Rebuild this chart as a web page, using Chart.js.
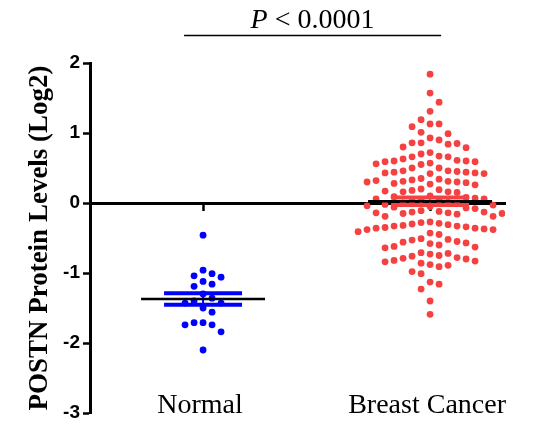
<!DOCTYPE html>
<html>
<head>
<meta charset="utf-8">
<script src="https://cdn.jsdelivr.net/npm/chart.js@4.4.1/dist/chart.umd.min.js"></script>
<style>
  html, body { margin: 0; padding: 0; background: #fff; }
  canvas { display: block; }
</style>
</head>
<body>
<canvas id="dotChart" width="536" height="428"></canvas>
<script>
// Groups and values (log2 POSTN levels)
const groups = ['Normal', 'Breast Cancer'];
const groupColors = ['#0000FF', 'rgb(244,66,66)'];

const normalValues = [-0.46, -0.96, -1.01, -1.04, -1.06, -1.12, -1.16, -1.19, -1.30, -1.36, -1.40,
  -1.43, -1.43, -1.50, -1.56, -1.71, -1.71, -1.74, -1.74, -1.84, -2.10];

const cancerValues = [
  1.84, 1.57, 1.44, 1.31, 1.19, 1.13, 1.13, 1.09, 1.01, 0.99, 0.93, 0.90, 0.86, 0.86, 0.85, 0.84, 0.80, 0.79,
  0.72, 0.70, 0.67, 0.66, 0.66, 0.63,
  0.61, 0.60, 0.60, 0.59, 0.59, 0.57, 0.56, 0.55, 0.50, 0.50,
  0.46, 0.46, 0.45, 0.44, 0.44, 0.43, 0.43, 0.42, 0.42,
  0.35, 0.34, 0.33, 0.32, 0.31, 0.31, 0.30, 0.30, 0.29, 0.28, 0.27, 0.26,
  0.20, 0.19, 0.18, 0.17, 0.16, 0.16, 0.15,
  0.10, 0.09, 0.08, 0.07, 0.06, 0.06, 0.05, 0.04, 0.03,
  0.01, 0.00, -0.01, -0.02, -0.03, -0.04, -0.05, -0.06, -0.07, -0.08,
  -0.11, -0.12, -0.13, -0.13, -0.14, -0.14, -0.15, -0.15, -0.16, -0.19, -0.19,
  -0.27, -0.28, -0.29, -0.30, -0.31, -0.32, -0.33, -0.33, -0.34, -0.35, -0.36, -0.36, -0.37, -0.38, -0.38,
  -0.41, -0.43, -0.45,
  -0.51, -0.52, -0.53, -0.55, -0.56, -0.57, -0.58, -0.60, -0.62, -0.63, -0.64,
  -0.71, -0.72, -0.73, -0.75, -0.76, -0.78, -0.79, -0.80, -0.82, -0.83, -0.84,
  -0.86, -0.88, -0.89, -0.91,
  -0.98, -1.01, -1.13, -1.16, -1.23, -1.40, -1.59
];

const seriesValues = [normalValues, cancerValues];
const yTicks = [2, 1, 0, -1, -2, -3];
const pLabel = ['P', ' < 0.0001'];

const serif = "'Liberation Serif', 'Times New Roman', serif";
const sans = "'Liberation Sans', Arial, sans-serif";

function mean(a) { return a.reduce((s, v) => s + v, 0) / a.length; }
function sem(a) {
  const m = mean(a);
  const sd = Math.sqrt(a.reduce((s, v) => s + (v - m) * (v - m), 0) / (a.length - 1));
  return sd / Math.sqrt(a.length);
}

// simple beeswarm: columns of fixed width, points stacked so they don't overlap
function swarmColumns(yPix, minGap) {
  const cols = {};
  const out = new Array(yPix.length);
  const order = yPix.map((v, i) => i).sort((a, b) => yPix[a] - yPix[b]);
  let side = 1;
  order.forEach(i => {
    const y = yPix[i];
    for (let k = 0; ; k++) {
      const cands = k === 0 ? [0] : [k * side, -k * side];
      const c = cands.find(c => !(cols[c] || []).some(yy => Math.abs(yy - y) < minGap));
      if (c !== undefined) {
        (cols[c] = cols[c] || []).push(y);
        out[i] = c;
        if (c !== 0) side = c > 0 ? -1 : 1;
        break;
      }
    }
  });
  return out;
}

// mean line + SEM caps, P value bracket and category names
const extrasPlugin = {
  id: 'extras',
  afterDatasetsDraw(chart) {
    const {ctx, scales: {x, y}} = chart;
    ctx.save();
    seriesValues.forEach((vals, g) => {
      const cx = x.getPixelForValue(g);
      const m = mean(vals), e = sem(vals);
      const yHi = y.getPixelForValue(m + e), yLo = y.getPixelForValue(m - e);
      ctx.strokeStyle = groupColors[g];
      ctx.lineWidth = 2;
      ctx.beginPath(); ctx.moveTo(cx, yHi); ctx.lineTo(cx, yLo); ctx.stroke();
      ctx.lineWidth = 4;
      [yHi, yLo].forEach(yy => {
        ctx.beginPath(); ctx.moveTo(cx - 39, yy); ctx.lineTo(cx + 39, yy); ctx.stroke();
      });
      ctx.strokeStyle = '#000';
      ctx.lineWidth = 2.5;
      const ym = y.getPixelForValue(m);
      ctx.beginPath(); ctx.moveTo(cx - 62, ym); ctx.lineTo(cx + 62, ym); ctx.stroke();
    });
    ctx.restore();
  },
  afterDraw(chart) {
    const {ctx, scales: {x, y}} = chart;
    ctx.save();
    ctx.fillStyle = '#000';
    // category labels
    ctx.font = '28px ' + serif;
    ctx.textAlign = 'center';
    ctx.textBaseline = 'alphabetic';
    groups.forEach((name, g) => {
      ctx.fillText(name, x.getPixelForValue(g) - 3, y.bottom);
    });
    // significance bracket
    const x0 = x.getPixelForValue(0) - 19, x1 = x.getPixelForValue(1) + 11;
    ctx.strokeStyle = '#000';
    ctx.lineWidth = 1.3;
    ctx.beginPath(); ctx.moveTo(x0, 35.5); ctx.lineTo(x1, 35.5); ctx.stroke();
    const italic = 'italic 28px ' + serif, upright = '28px ' + serif;
    ctx.font = italic; const w0 = ctx.measureText(pLabel[0]).width;
    ctx.font = upright; const w1 = ctx.measureText(pLabel[1]).width;
    let tx = (x0 + x1) / 2 - (w0 + w1) / 2;
    ctx.textAlign = 'left';
    ctx.font = italic; ctx.fillText(pLabel[0], tx, 28);
    ctx.font = upright; ctx.fillText(pLabel[1], tx + w0, 28);
    ctx.restore();
  }
};

const ctx = document.getElementById('dotChart').getContext('2d');
const dotChart = new Chart(ctx, {
  type: 'scatter',
  data: {
    datasets: seriesValues.map((vals, g) => ({
      label: groups[g],
      data: vals.map(v => ({x: g, y: v})),
      backgroundColor: groupColors[g],
      borderWidth: 0,
      pointRadius: 3.4,
      pointHoverRadius: 3.4
    }))
  },
  options: {
    responsive: false,
    animation: false,
    layout: {padding: {top: 63, bottom: 15, left: 2, right: 31}},
    plugins: {
      legend: {display: false},
      tooltip: {enabled: false}
    },
    scales: {
      x: {
        type: 'linear',
        position: {y: 0},
        min: -0.498,
        max: 1.33,
        z: 1,
        border: {color: '#000', width: 3},
        grid: {drawOnChartArea: false, drawTicks: true, tickLength: 6, tickColor: '#000', tickWidth: 2.5},
        ticks: {display: false},
        afterBuildTicks: s => { s.ticks = groups.map((n, i) => ({value: i})); }
      },
      y: {
        min: -3,
        max: 2,
        border: {color: '#000', width: 3},
        grid: {drawOnChartArea: false, drawTicks: true, tickLength: 7, tickColor: '#000', tickWidth: 2.5},
        ticks: {
          color: '#000',
          padding: 3,
          font: {family: sans, size: 19, weight: 'bold'}
        },
        afterBuildTicks: s => { s.ticks = yTicks.map(v => ({value: v})); },
        afterFit: s => { s.width = 88; },
        title: {
          display: true,
          text: 'POSTN Protein Levels (Log2)',
          color: '#000',
          font: {family: serif, size: 27, weight: 'bold', lineHeight: 1.2},
          padding: {top: 22, bottom: 0}
        }
      }
    }
  },
  plugins: [extrasPlugin]
});

// spread points sideways once the scales are known
(function applySwarm(chart) {
  const xs = chart.scales.x, ys = chart.scales.y;
  const colUnit = 9 / (xs.getPixelForValue(1) - xs.getPixelForValue(0));
  chart.data.datasets.forEach((ds, g) => {
    const vals = seriesValues[g];
    const cols = swarmColumns(vals.map(v => ys.getPixelForValue(v)), 10);
    ds.data = vals.map((v, i) => ({x: g + cols[i] * colUnit, y: v}));
  });
  chart.update('none');
})(dotChart);
</script>
</body>
</html>
